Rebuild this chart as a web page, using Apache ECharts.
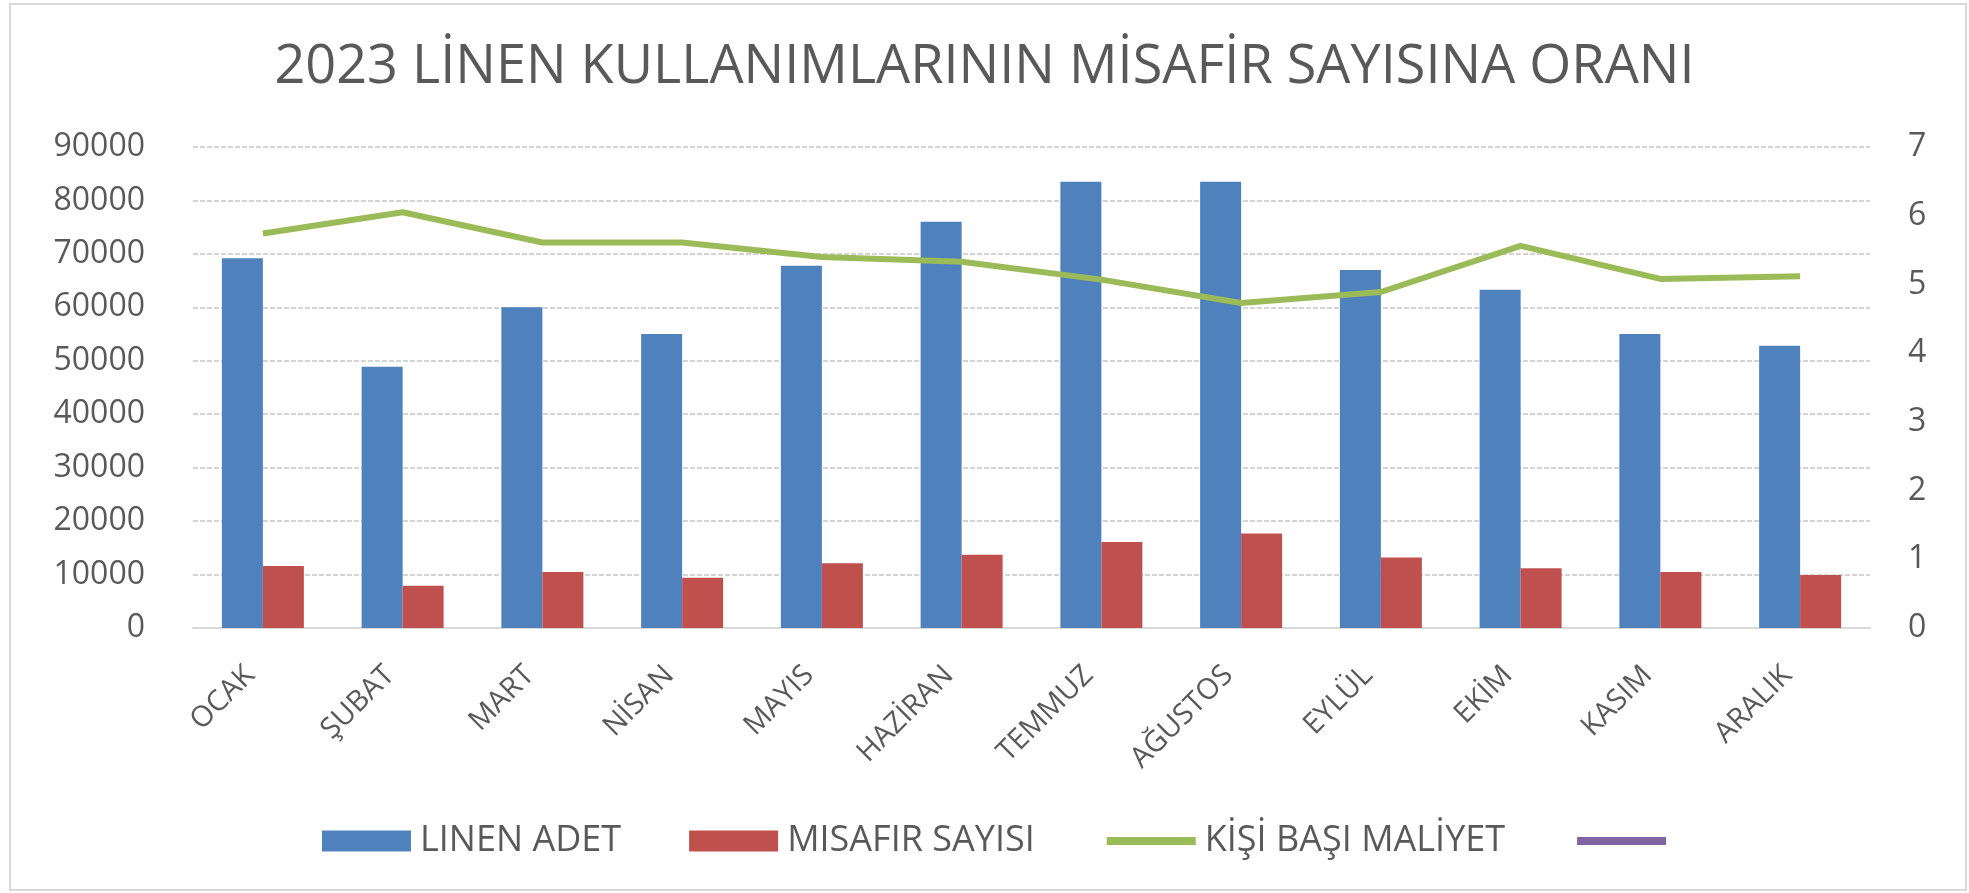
<!DOCTYPE html>
<html>
<head>
<meta charset="utf-8">
<script src="https://cdn.jsdelivr.net/npm/echarts@6/dist/echarts.min.js"></script>
<style>
  html, body { margin: 0; padding: 0; background: #fff; }
  #chart { width: 1969px; height: 893px; }
</style>
</head>
<body>
<div id="chart"></div>
<script>
// months
const months = ['OCAK', 'ŞUBAT', 'MART', 'NİSAN', 'MAYIS', 'HAZİRAN', 'TEMMUZ', 'AĞUSTOS', 'EYLÜL', 'EKİM', 'KASIM', 'ARALIK'];
// values
const linenAdet = [69200, 48900, 60000, 55000, 67800, 76000, 83500, 83500, 67000, 63300, 55000, 52800];
const misafirSayisi = [11600, 7900, 10500, 9400, 12100, 13700, 16100, 17700, 13200, 11200, 10500, 9900];
const kisiBasiMaliyet = [5.74, 6.05, 5.61, 5.61, 5.40, 5.33, 5.07, 4.73, 4.89, 5.56, 5.08, 5.12];
const emptySeries = [];

const font = 'Open Sans';
const grey = '#595959';

let chartDom = document.getElementById('chart');
let myChart = echarts.init(chartDom, null, { renderer: 'canvas' });

let option = {
  backgroundColor: '#fff',
  animation: false,
  title: {
    text: '2023 LİNEN KULLANIMLARININ MİSAFİR SAYISINA ORANI',
    left: 'center',
    top: 36,
    textStyle: { fontFamily: font, fontSize: 54, fontWeight: 'normal', color: grey },
  },
  graphic: [
    {
      type: 'rect',
      shape: { x: 10, y: 4, width: 1956, height: 886 },
      style: { fill: 'none', stroke: '#d9d9d9', lineWidth: 2 },
      silent: true,
    },
  ],
  legend: {
    left: 317,
    top: 818,
    itemWidth: 89,
    itemHeight: 21,
    itemGap: 68,
    textStyle: { fontFamily: font, fontSize: 36, color: grey, padding: [0, 0, 0, 4] },
    data: [
      { name: 'LINEN ADET', icon: 'rect' },
      { name: 'MISAFIR SAYISI', icon: 'rect' },
      { name: 'KİŞİ BAŞI MALİYET', itemStyle: { opacity: 0 }, lineStyle: { width: 8 } },
      { name: ' ', itemStyle: { opacity: 0 }, lineStyle: { width: 8 } },
    ],
  },
  grid: {
    left: 193,
    right: 99,
    top: 147,
    bottom: 265,
  },
  xAxis: {
    type: 'category',
    data: months,
    axisTick: { show: false },
    axisLine: { lineStyle: { color: '#d9d9d9', width: 2 } },
    axisLabel: {
      rotate: 45,
      margin: 30,
      padding: [0, 18, 0, 0],
      fontFamily: font,
      fontSize: 29,
      color: grey,
      interval: 0,
    },
  },
  yAxis: [
    {
      type: 'value',
      min: 0,
      max: 90000,
      interval: 10000,
      axisLabel: { fontFamily: font, fontSize: 32, color: grey, margin: 48, formatter: (v) => String(v) },
      axisLine: { show: false },
      axisTick: { show: false },
      splitLine: { lineStyle: { color: '#d4d4d4', width: 2, type: [5, 2] } },
    },
    {
      type: 'value',
      min: 0,
      max: 7,
      interval: 1,
      axisLabel: { fontFamily: font, fontSize: 32, color: grey, margin: 38 },
      axisLine: { show: false },
      axisTick: { show: false },
      splitLine: { show: false },
    },
  ],
  series: [
    {
      name: 'LINEN ADET',
      type: 'bar',
      data: linenAdet,
      barWidth: 41,
      barGap: '0%',
      itemStyle: { color: '#4f81bd' },
    },
    {
      name: 'MISAFIR SAYISI',
      type: 'bar',
      data: misafirSayisi,
      barWidth: 41,
      itemStyle: { color: '#c0504d' },
    },
    {
      name: 'KİŞİ BAŞI MALİYET',
      type: 'line',
      yAxisIndex: 1,
      data: kisiBasiMaliyet,
      showSymbol: false,
      symbol: 'none',
      color: '#9bbb59',
      lineStyle: { color: '#9bbb59', width: 6 },
    },
    {
      name: ' ',
      type: 'line',
      yAxisIndex: 1,
      data: emptySeries,
      symbol: 'none',
      color: '#8064a2',
      lineStyle: { color: '#8064a2', width: 6 },
    },
  ],
};

option && myChart.setOption(option);
</script>
</body>
</html>
